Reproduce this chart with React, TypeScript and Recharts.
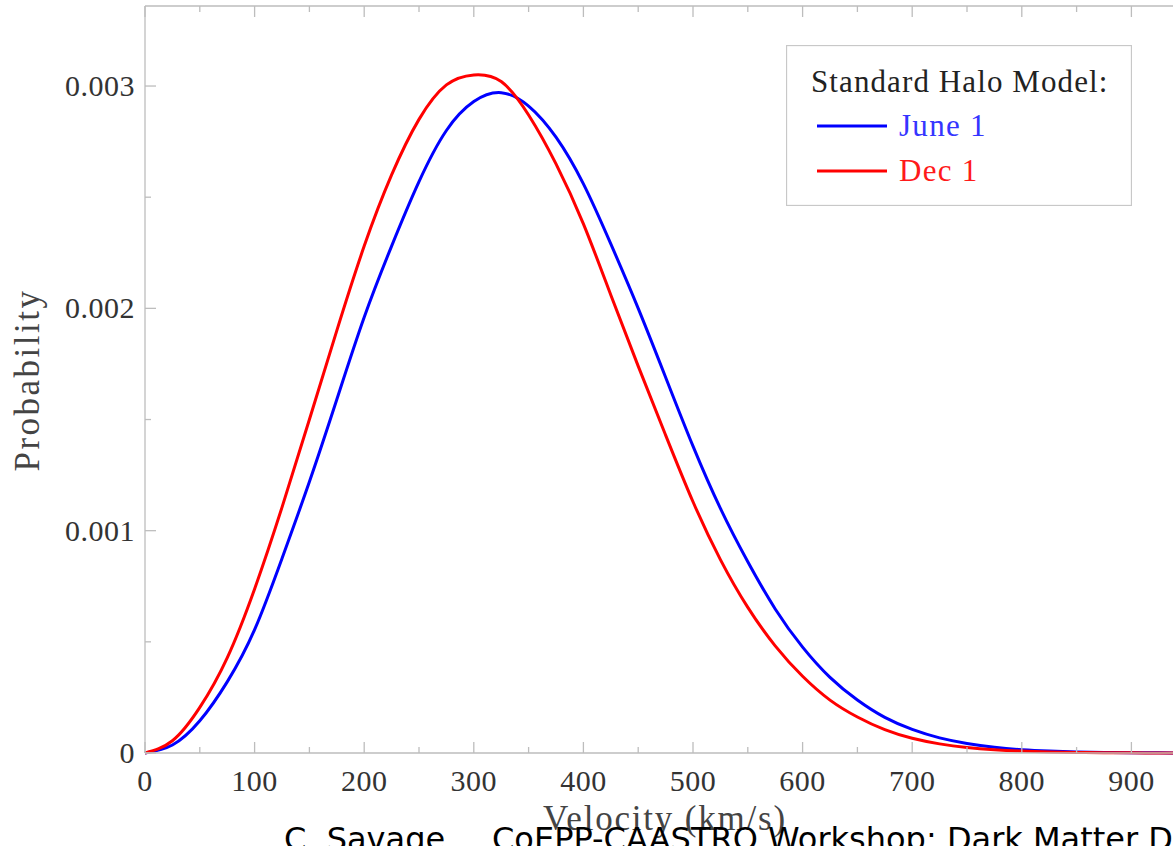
import { LineChart, Line, XAxis, YAxis, Legend, Label } from "recharts";

// speed distribution sampled every 25 km/s
const VELOCITY = [
  0, 25, 50, 75, 100, 125, 150, 175, 200, 225, 250, 275, 300, 325, 350, 375, 400, 425, 450, 475, 500,
  525, 550, 575, 600, 625, 650, 675, 700, 725, 750, 775, 800, 825, 850, 875, 900, 925, 950, 975, 1000,
];

const JUNE_1 = [
  0, 0.000036, 0.000145, 0.00032, 0.000555, 0.000875, 0.00122, 0.00159, 0.00196, 0.00228, 0.00257,
  0.0028, 0.00293, 0.00297, 0.00291, 0.00277, 0.00256, 0.00229, 0.002, 0.00169, 0.00138, 0.0011,
  0.00086, 0.000648, 0.000476, 0.00034, 0.000238, 0.00016, 0.000106, 0.000068, 0.000043, 0.000026,
  0.000015, 0.0000088, 0.0000049, 0.0000026, 0.0000014, 0.0000007, 0.0000003, 0.0000001, 0,
];

const DEC_1 = [
  0, 0.000055, 0.000205, 0.000428, 0.000738, 0.001105, 0.0015, 0.0019, 0.00228, 0.0026, 0.00285,
  0.003005, 0.00305, 0.00302, 0.00287, 0.00265, 0.00238, 0.00206, 0.00174, 0.00143, 0.00113, 0.00087,
  0.000655, 0.000482, 0.000345, 0.000238, 0.000162, 0.000105, 0.000066, 0.000041, 0.000025, 0.000015,
  0.0000085, 0.0000048, 0.0000026, 0.0000014, 0.0000007, 0.0000003, 0.0000001, 0, 0,
];

const X_TICKS = [
  0, 50, 100, 150, 200, 250, 300, 350, 400, 450, 500, 550, 600, 650, 700, 750, 800, 850, 900, 950, 1000,
];
const Y_TICKS = [0, 0.0005, 0.001, 0.0015, 0.002, 0.0025, 0.003];

const SERIES = [
  { key: "june", name: "June 1", color: "#0000ff", text: "#3535ff" },
  { key: "dec", name: "Dec 1", color: "#ff0000", text: "#ff1a1a" },
];

const data = VELOCITY.map((v, i) => ({ v, june: JUNE_1[i], dec: DEC_1[i] }));

const SERIF = '"Liberation Serif", "Times New Roman", serif';
const SANS = '"DejaVu Sans", sans-serif';
const AXIS = "#bdbdbd";
const INK = "#333";

const isMajorX = (v: number) => v % 100 === 0;
const isMajorY = (v: number) => Math.round(v * 10000) % 10 === 0;

function BottomTick(props: any) {
  const { x, y, payload } = props;
  const major = isMajorX(payload.value);
  return (
    <g>
      <line x1={x} x2={x} y1={y} y2={y - (major ? 11 : 6)} stroke={AXIS} strokeWidth={1.3} />
      {major && payload.value < 1000 && (
        <text x={x} y={y + 38} textAnchor="middle" fill={INK} fontFamily={SERIF} fontSize={30} letterSpacing={0.5}>
          {payload.value}
        </text>
      )}
    </g>
  );
}

function TopTick(props: any) {
  const { x, y, payload } = props;
  const major = isMajorX(payload.value);
  return <line x1={x} x2={x} y1={y} y2={y + (major ? 11 : 6)} stroke={AXIS} strokeWidth={1.3} />;
}

function LeftTick(props: any) {
  const { x, y, payload } = props;
  const major = isMajorY(payload.value);
  return (
    <g>
      <line x1={x} x2={x + (major ? 11 : 6)} y1={y} y2={y} stroke={AXIS} strokeWidth={1.3} />
      {major && (
        <text x={x - 10} y={y + 10} textAnchor="end" fill={INK} fontFamily={SERIF} fontSize={30} letterSpacing={0.5}>
          {payload.value === 0 ? "0" : payload.value.toFixed(3)}
        </text>
      )}
    </g>
  );
}

function HaloLegend() {
  return (
    <svg width={346} height={161} style={{ display: "block" }}>
      <rect x={0.5} y={0.5} width={345} height={160} fill="#fff" stroke="#c8c8c8" strokeWidth={1.3} />
      <text x={25} y={47} fill="#222" fontFamily={SERIF} fontSize={31} letterSpacing={1.1}>
        Standard Halo Model:
      </text>
      {SERIES.map((s, i) => (
        <g key={s.key}>
          <line x1={31} x2={101} y1={81 + i * 45} y2={81 + i * 45} stroke={s.color} strokeWidth={3} />
          <text x={113} y={91 + i * 45} fill={s.text} fontFamily={SERIF} fontSize={31} letterSpacing={1.3}>
            {s.name}
          </text>
        </g>
      ))}
    </svg>
  );
}

export default function App() {
  return (
    <div
      style={{
        position: "fixed",
        left: 0,
        top: 0,
        width: 1173,
        height: 846,
        overflow: "hidden",
        background: "#fff",
      }}
    >
      <LineChart width={1260} height={846} data={data} margin={{ top: 0, right: 19, bottom: 0, left: 0 }}>
        <XAxis
          xAxisId="bottom"
          dataKey="v"
          type="number"
          domain={[0, 1000]}
          ticks={X_TICKS}
          interval={0}
          height={93}
          tickSize={0}
          tickMargin={0}
          tickLine={false}
          axisLine={{ stroke: AXIS, strokeWidth: 1.3 }}
          tick={BottomTick}
        >
          <Label
            content={() => (
              <text x={665} y={830} textAnchor="middle" fill="#444" fontFamily={SERIF} fontSize={35} letterSpacing={1.8}>
                Velocity (km/s)
              </text>
            )}
          />
        </XAxis>
        <XAxis
          xAxisId="top"
          orientation="top"
          dataKey="v"
          type="number"
          domain={[0, 1000]}
          ticks={X_TICKS}
          interval={0}
          height={6}
          tickSize={0}
          tickMargin={0}
          tickLine={false}
          axisLine={{ stroke: AXIS, strokeWidth: 1.3 }}
          tick={TopTick}
        />
        <YAxis
          domain={[0, 0.00336]}
          ticks={Y_TICKS}
          interval={0}
          width={145}
          tickSize={0}
          tickMargin={0}
          tickLine={false}
          axisLine={{ stroke: AXIS, strokeWidth: 1.3 }}
          tick={LeftTick}
        >
          <Label
            content={() => (
              <text
                x={39}
                y={380}
                transform="rotate(-90 39 380)"
                textAnchor="middle"
                fill="#444"
                fontFamily={SERIF}
                fontSize={35}
                letterSpacing={2.5}
              >
                Probability
              </text>
            )}
          />
        </YAxis>
        <Legend
          layout="vertical"
          align="center"
          verticalAlign="middle"
          content={() => <HaloLegend />}
          wrapperStyle={{ position: "absolute", left: 786, top: 45, width: 346, height: 161 }}
        />
        <Line
          xAxisId="bottom"
          dataKey="june"
          name="June 1"
          type="natural"
          stroke="#0000ff"
          strokeWidth={3}
          dot={false}
          isAnimationActive={false}
        />
        <Line
          xAxisId="bottom"
          dataKey="dec"
          name="Dec 1"
          type="natural"
          stroke="#ff0000"
          strokeWidth={3}
          dot={false}
          isAnimationActive={false}
        />
      </LineChart>
      <svg
        width={1173}
        height={846}
        style={{ position: "absolute", left: 0, top: 0, pointerEvents: "none" }}
      >
        <text x={284} y={850} fill="#000" fontFamily={SANS} fontSize={32}>
          C. Savage
        </text>
        <text x={492} y={850} fill="#000" fontFamily={SANS} fontSize={32}>
          CoEPP-CAASTRO Workshop: Dark Matter Detection
        </text>
      </svg>
    </div>
  );
}
